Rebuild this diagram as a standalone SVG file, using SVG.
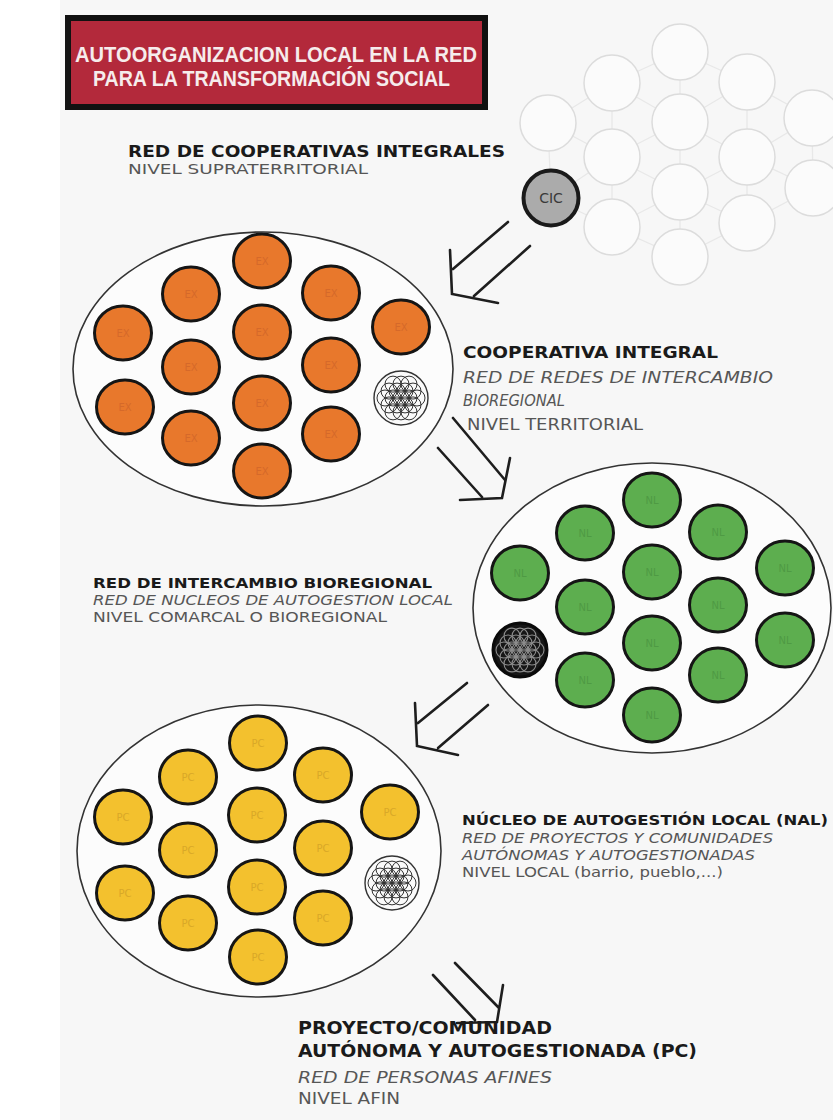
<svg xmlns="http://www.w3.org/2000/svg" xmlns:xlink="http://www.w3.org/1999/xlink" width="833" height="1120" viewBox="0 0 833 1120">
<style>
.t{font-family:"DejaVu Sans","Liberation Sans",sans-serif}
.b{font-weight:bold;fill:#1a1a1a}
.i{font-style:italic;fill:#565656}
.r{fill:#565656}
.ell{fill:#fcfcfc;stroke:#333;stroke-width:1.6}
.lk{fill:none;stroke:#3a3a3a;stroke-width:1.3}
.flk{fill:none;stroke:#e8e8e8;stroke-width:1.3}
.on{fill:#e8782c;stroke:#151515;stroke-width:3}
.gn{fill:#5dae4f;stroke:#151515;stroke-width:3}
.yn{fill:#f3c12e;stroke:#151515;stroke-width:3}
.fn{fill:#fbfbfb;stroke:#dcdcdc;stroke-width:1.5}
.arr{fill:none;stroke:#1e1e1e;stroke-width:2.6;stroke-linecap:round;stroke-linejoin:miter}
.lbl{font-family:"DejaVu Sans",sans-serif;font-size:10px;text-anchor:middle}
.ol{fill:#d5692a}
.gl{fill:#4f9a44}
.yl{fill:#d9a828}
.tt{font-family:"Liberation Sans",sans-serif;font-weight:bold;font-size:22px;fill:#f6ecec}
</style>
<defs>
<g id="flower" fill="none">
<circle cx="0" cy="0" r="8"/><circle cx="-16" cy="0" r="8"/><circle cx="-8" cy="0" r="8"/><circle cx="8" cy="0" r="8"/><circle cx="16" cy="0" r="8"/>
<circle cx="-12" cy="-6.93" r="8"/><circle cx="-4" cy="-6.93" r="8"/><circle cx="4" cy="-6.93" r="8"/><circle cx="12" cy="-6.93" r="8"/>
<circle cx="-12" cy="6.93" r="8"/><circle cx="-4" cy="6.93" r="8"/><circle cx="4" cy="6.93" r="8"/><circle cx="12" cy="6.93" r="8"/>
<circle cx="-8" cy="-13.86" r="8"/><circle cx="0" cy="-13.86" r="8"/><circle cx="8" cy="-13.86" r="8"/>
<circle cx="-8" cy="13.86" r="8"/><circle cx="0" cy="13.86" r="8"/><circle cx="8" cy="13.86" r="8"/>
</g>
</defs>
<rect x="0" y="0" width="833" height="1120" fill="#ffffff"/>
<rect x="60" y="0" width="773" height="1120" fill="#f7f7f7"/>

<g id="title">
<rect x="68" y="18" width="417" height="89" fill="#b3293b" stroke="#111" stroke-width="6"/>
<text class="tt" x="75" y="62" textLength="402" lengthAdjust="spacingAndGlyphs">AUTOORGANIZACION LOCAL EN LA RED</text>
<text class="tt" x="93" y="86" textLength="357" lengthAdjust="spacingAndGlyphs">PARA LA TRANSFORMACIÓN SOCIAL</text>
</g>

<g id="connectors">
<path class="flk" d="M548 123L612 83M548 123L612 157M551 198L612 157M551 198L612 227M612 83V227M612 83L680 52M612 83L680 122M612 157L680 122M612 157L680 192M612 227L680 192M612 227L680 257M680 52V257M680 52L747 82M680 122L747 82M680 122L747 157M680 192L747 157M680 192L747 223M680 257L747 223M747 82V223M747 82L812 118M747 157L812 118M747 157L813 188M747 223L813 188M812 118L813 188M548 123L551 198"/>
<path class="lk" d="M123 333L125 407M191 294V438M262 261V471M331 293V434M401 327V398M123 333L191 294M123 333L191 367M125 407L191 367M125 407L191 438M191 294L262 261M191 294L262 332M191 367L262 332M191 367L262 403M191 438L262 403M191 438L262 471M262 261L331 293M262 332L331 293M262 332L331 365M262 403L331 365M262 403L331 434M262 471L331 434M331 293L401 327M331 365L401 327M331 365L401 398M331 434L401 398"/>
<path class="lk" d="M520 573V650M585 533V680M652 500V715M718 532V675M785 568V640M520 573L585 533M520 573L585 607M520 650L585 607M520 650L585 680M585 533L652 500M585 533L652 572M585 607L652 572M585 607L652 643M585 680L652 643M585 680L652 715M652 500L718 532M652 572L718 532M652 572L718 605M652 643L718 605M652 643L718 675M652 715L718 675M718 532L785 568M718 605L785 568M718 605L785 640M718 675L785 640"/>
<path class="lk" d="M123 817L125 893M188 777V923M258 743L257 815L257 887L258 957M323 775V918M390 812L392 883M123 817L188 777M123 817L188 850M125 893L188 850M125 893L188 923M188 777L258 743M188 777L257 815M188 850L257 815M188 850L257 887M188 923L257 887M188 923L258 957M258 743L323 775M257 815L323 775M257 815L323 848M257 887L323 848M257 887L323 918M258 957L323 918M323 775L390 812M323 848L390 812M323 848L392 883M323 918L392 883"/>
<path class="arr" d="M508 222L453 269M530 246L474 296M450 250L452 294L498 303"/>
<path class="arr" d="M453 418L505 480M438 448L482 497M510 458L502 498L460 500"/>
<path class="arr" d="M467 683L418 723M488 705L438 748M415 703L417 746L458 755"/>
<path class="arr" d="M433 975L475 1020M455 963L499 1008M503 985L497 1022L457 1023"/>
</g>

<g id="supraterritorial">
<ellipse class="fn" cx="548" cy="123" rx="28" ry="28"/>
<ellipse class="fn" cx="612" cy="83" rx="28" ry="28"/>
<ellipse class="fn" cx="612" cy="157" rx="28" ry="28"/>
<ellipse class="fn" cx="612" cy="227" rx="28" ry="28"/>
<ellipse class="fn" cx="680" cy="52" rx="28" ry="28"/>
<ellipse class="fn" cx="680" cy="122" rx="28" ry="28"/>
<ellipse class="fn" cx="680" cy="192" rx="28" ry="28"/>
<ellipse class="fn" cx="680" cy="257" rx="28" ry="28"/>
<ellipse class="fn" cx="747" cy="82" rx="28" ry="28"/>
<ellipse class="fn" cx="747" cy="157" rx="28" ry="28"/>
<ellipse class="fn" cx="747" cy="223" rx="28" ry="28"/>
<ellipse class="fn" cx="812" cy="118" rx="28" ry="28"/>
<ellipse class="fn" cx="813" cy="188" rx="28" ry="28"/>
</g>
<g id="cic">
<circle cx="551" cy="198" r="27.5" fill="#ababab" stroke="#1a1a1a" stroke-width="4"/>
<text class="t" x="551" y="203" font-size="14" text-anchor="middle" fill="#3a3a3a">CIC</text>
</g>

<g id="cooperativa-integral">
<ellipse class="ell" cx="263" cy="369" rx="190" ry="137"/>
<g id="o-mesh"><circle cx="401" cy="398" r="27" fill="#fafafa" stroke="#333" stroke-width="1.4"/><use xlink:href="#flower" href="#flower" x="401" y="398" stroke="#333" stroke-width="1"/></g>
<ellipse class="on" cx="123" cy="333" rx="28.5" ry="27"/>
<ellipse class="on" cx="125" cy="407" rx="28.5" ry="27"/>
<ellipse class="on" cx="191" cy="294" rx="28.5" ry="27"/>
<ellipse class="on" cx="191" cy="367" rx="28.5" ry="27"/>
<ellipse class="on" cx="191" cy="438" rx="28.5" ry="27"/>
<ellipse class="on" cx="262" cy="261" rx="28.5" ry="27"/>
<ellipse class="on" cx="262" cy="332" rx="28.5" ry="27"/>
<ellipse class="on" cx="262" cy="403" rx="28.5" ry="27"/>
<ellipse class="on" cx="262" cy="471" rx="28.5" ry="27"/>
<ellipse class="on" cx="331" cy="293" rx="28.5" ry="27"/>
<ellipse class="on" cx="331" cy="365" rx="28.5" ry="27"/>
<ellipse class="on" cx="331" cy="434" rx="28.5" ry="27"/>
<ellipse class="on" cx="401" cy="327" rx="28.5" ry="27"/>
<g class="lbl ol">
<text x="123" y="337">EX</text><text x="125" y="411">EX</text><text x="191" y="298">EX</text><text x="191" y="371">EX</text><text x="191" y="442">EX</text><text x="262" y="265">EX</text><text x="262" y="336">EX</text><text x="262" y="407">EX</text><text x="262" y="475">EX</text><text x="331" y="297">EX</text><text x="331" y="369">EX</text><text x="331" y="438">EX</text><text x="401" y="331">EX</text>
</g>
</g>

<g id="red-intercambio">
<ellipse class="ell" cx="652" cy="608" rx="179" ry="145"/>
<g id="g-mesh"><circle cx="520" cy="650" r="27" fill="#161616" stroke="#0a0a0a" stroke-width="3"/><use xlink:href="#flower" href="#flower" x="520" y="650" stroke="#8d8d8d" stroke-width="1.1"/></g>
<ellipse class="gn" cx="520" cy="573" rx="28.5" ry="27"/>
<ellipse class="gn" cx="585" cy="533" rx="28.5" ry="27"/>
<ellipse class="gn" cx="585" cy="607" rx="28.5" ry="27"/>
<ellipse class="gn" cx="585" cy="680" rx="28.5" ry="27"/>
<ellipse class="gn" cx="652" cy="500" rx="28.5" ry="27"/>
<ellipse class="gn" cx="652" cy="572" rx="28.5" ry="27"/>
<ellipse class="gn" cx="652" cy="643" rx="28.5" ry="27"/>
<ellipse class="gn" cx="652" cy="715" rx="28.5" ry="27"/>
<ellipse class="gn" cx="718" cy="532" rx="28.5" ry="27"/>
<ellipse class="gn" cx="718" cy="605" rx="28.5" ry="27"/>
<ellipse class="gn" cx="718" cy="675" rx="28.5" ry="27"/>
<ellipse class="gn" cx="785" cy="568" rx="28.5" ry="27"/>
<ellipse class="gn" cx="785" cy="640" rx="28.5" ry="27"/>
<g class="lbl gl">
<text x="520" y="577">NL</text><text x="585" y="537">NL</text><text x="585" y="611">NL</text><text x="585" y="684">NL</text><text x="652" y="504">NL</text><text x="652" y="576">NL</text><text x="652" y="647">NL</text><text x="652" y="719">NL</text><text x="718" y="536">NL</text><text x="718" y="609">NL</text><text x="718" y="679">NL</text><text x="785" y="572">NL</text><text x="785" y="644">NL</text>
</g>
</g>

<g id="nucleo-local">
<ellipse class="ell" cx="259" cy="851" rx="182" ry="146"/>
<g id="y-mesh"><circle cx="392" cy="883" r="27" fill="#fafafa" stroke="#333" stroke-width="1.4"/><use xlink:href="#flower" href="#flower" x="392" y="883" stroke="#333" stroke-width="1"/></g>
<ellipse class="yn" cx="123" cy="817" rx="28.5" ry="27"/>
<ellipse class="yn" cx="125" cy="893" rx="28.5" ry="27"/>
<ellipse class="yn" cx="188" cy="777" rx="28.5" ry="27"/>
<ellipse class="yn" cx="188" cy="850" rx="28.5" ry="27"/>
<ellipse class="yn" cx="188" cy="923" rx="28.5" ry="27"/>
<ellipse class="yn" cx="258" cy="743" rx="28.5" ry="27"/>
<ellipse class="yn" cx="257" cy="815" rx="28.5" ry="27"/>
<ellipse class="yn" cx="257" cy="887" rx="28.5" ry="27"/>
<ellipse class="yn" cx="258" cy="957" rx="28.5" ry="27"/>
<ellipse class="yn" cx="323" cy="775" rx="28.5" ry="27"/>
<ellipse class="yn" cx="323" cy="848" rx="28.5" ry="27"/>
<ellipse class="yn" cx="323" cy="918" rx="28.5" ry="27"/>
<ellipse class="yn" cx="390" cy="812" rx="28.5" ry="27"/>
<g class="lbl yl">
<text x="123" y="821">PC</text><text x="125" y="897">PC</text><text x="188" y="781">PC</text><text x="188" y="854">PC</text><text x="188" y="927">PC</text><text x="258" y="747">PC</text><text x="257" y="819">PC</text><text x="257" y="891">PC</text><text x="258" y="961">PC</text><text x="323" y="779">PC</text><text x="323" y="852">PC</text><text x="323" y="922">PC</text><text x="390" y="816">PC</text>
</g>
</g>

<g id="txt-red-cooperativas" class="t">
<text class="b" x="128" y="157" font-size="16" textLength="377" lengthAdjust="spacingAndGlyphs">RED DE COOPERATIVAS INTEGRALES</text>
<text class="r" x="128" y="174" font-size="14" textLength="240" lengthAdjust="spacingAndGlyphs">NIVEL SUPRATERRITORIAL</text>
</g>
<g id="txt-cooperativa" class="t">
<text class="b" x="463" y="358" font-size="16" textLength="255" lengthAdjust="spacingAndGlyphs">COOPERATIVA INTEGRAL</text>
<text class="i" x="463" y="383" font-size="15" textLength="310" lengthAdjust="spacingAndGlyphs">RED DE REDES DE INTERCAMBIO</text>
<text class="i" x="463" y="406" font-size="15" textLength="102" lengthAdjust="spacingAndGlyphs">BIOREGIONAL</text>
<text class="r" x="467" y="430" font-size="15" textLength="176" lengthAdjust="spacingAndGlyphs">NIVEL TERRITORIAL</text>
</g>
<g id="txt-intercambio" class="t">
<text class="b" x="93" y="588" font-size="14" textLength="339" lengthAdjust="spacingAndGlyphs">RED DE INTERCAMBIO BIOREGIONAL</text>
<text class="i" x="93" y="605" font-size="13.5" textLength="360" lengthAdjust="spacingAndGlyphs">RED DE NUCLEOS DE AUTOGESTION LOCAL</text>
<text class="r" x="93" y="622" font-size="13.5" textLength="294" lengthAdjust="spacingAndGlyphs">NIVEL COMARCAL O BIOREGIONAL</text>
</g>
<g id="txt-nal" class="t">
<text class="b" x="462" y="825" font-size="14" textLength="366" lengthAdjust="spacingAndGlyphs">NÚCLEO DE AUTOGESTIÓN LOCAL (NAL)</text>
<text class="i" x="462" y="843" font-size="13.5" textLength="311" lengthAdjust="spacingAndGlyphs">RED DE PROYECTOS Y COMUNIDADES</text>
<text class="i" x="462" y="860" font-size="13.5" textLength="293" lengthAdjust="spacingAndGlyphs">AUTÓNOMAS Y AUTOGESTIONADAS</text>
<text class="r" x="462" y="877" font-size="13.5" textLength="261" lengthAdjust="spacingAndGlyphs">NIVEL LOCAL (barrio, pueblo,...)</text>
</g>
<g id="txt-pc" class="t">
<text class="b" x="298" y="1034" font-size="17" textLength="254" lengthAdjust="spacingAndGlyphs">PROYECTO/COMUNIDAD</text>
<text class="b" x="298" y="1057" font-size="17" textLength="399" lengthAdjust="spacingAndGlyphs">AUTÓNOMA Y AUTOGESTIONADA (PC)</text>
<text class="i" x="298" y="1083" font-size="16" textLength="254" lengthAdjust="spacingAndGlyphs">RED DE PERSONAS AFINES</text>
<text class="r" x="298" y="1104" font-size="16" textLength="102" lengthAdjust="spacingAndGlyphs">NIVEL AFIN</text>
</g>
</svg>
